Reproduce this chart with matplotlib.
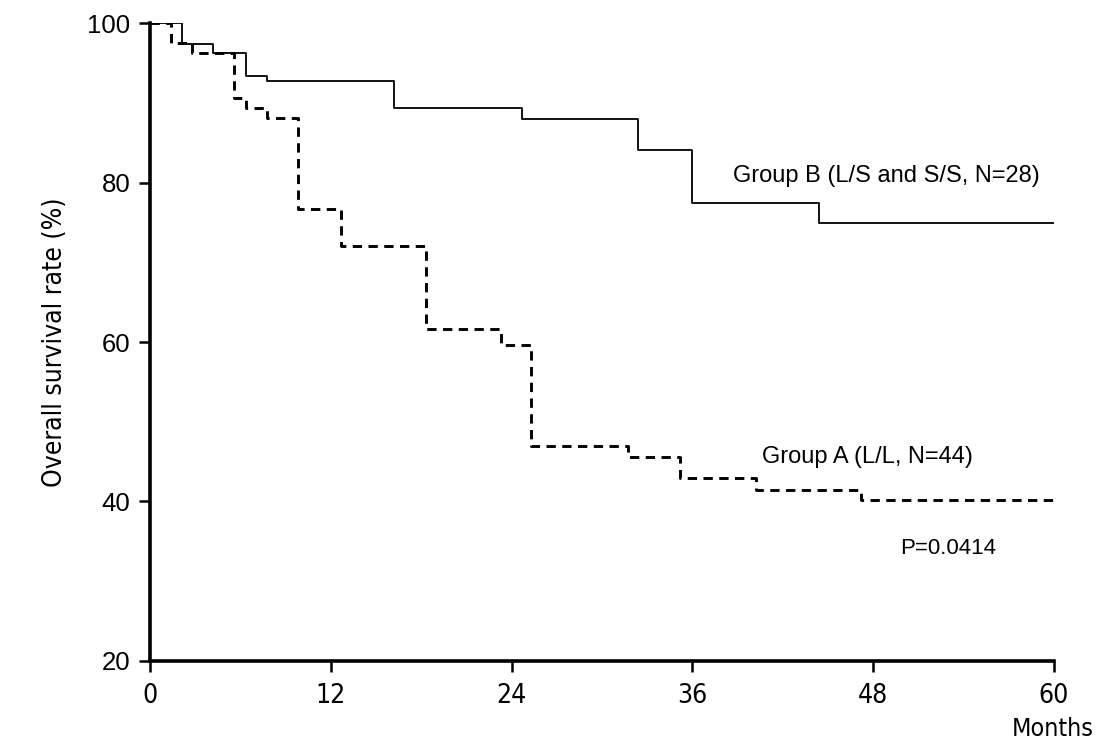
import matplotlib
matplotlib.use("Agg")
import matplotlib.pyplot as plt
from matplotlib import font_manager

# Kaplan-Meier step data (months, survival %)
group_b_months = [0, 2.1, 4.2, 6.4, 7.8, 16.2, 24.7, 32.4, 36.0, 44.4, 60]
group_b_surv = [100, 97.4, 96.2, 93.4, 92.7, 89.4, 88.0, 84.1, 77.4, 74.9, 74.9]

group_a_months = [0, 1.4, 2.8, 5.6, 6.4, 7.8, 9.8, 12.7, 18.3, 23.3, 25.3,
                  31.7, 35.2, 40.2, 47.2, 60]
group_a_surv = [100, 97.5, 96.2, 90.6, 89.3, 88.1, 76.7, 72.1, 61.6, 59.6,
                46.9, 45.6, 42.9, 41.5, 40.2, 40.2]

x_ticks = [0, 12, 24, 36, 48, 60]
y_ticks = [20, 40, 60, 80, 100]

label_b = "Group B (L/S and S/S, N=28)"
label_a = "Group A (L/L, N=44)"
p_text = "P=0.0414"

plt.rcParams['font.family'] = ['Liberation Sans', 'DejaVu Sans']

# Prefer a narrow face for axis numbers and titles when one is installed
installed = {f.name for f in font_manager.fontManager.ttflist}
if 'Liberation Sans Narrow' in installed:
    narrow = dict(family='Liberation Sans Narrow')
else:
    narrow = dict(family='DejaVu Sans', stretch='condensed')

fig = plt.figure(figsize=(10.97, 7.44), dpi=100)
ax = fig.add_axes([0.1367, 0.1116, 0.9608 - 0.1367, 0.969 - 0.1116])

ax.step(group_b_months, group_b_surv, where='post', color='black', lw=1.3)
ax.step(group_a_months, group_a_surv, where='post', color='black', lw=2.1,
        linestyle=(0, (3.2, 2.2)))

ax.set_xlim(0, 60)
ax.set_ylim(20, 100)
ax.set_xticks(x_ticks)
ax.set_yticks(y_ticks)
ax.set_xticklabels([str(v) for v in x_ticks], fontsize=19, **narrow)
ax.set_yticklabels([str(v) for v in y_ticks], fontsize=18.5)

for side in ('top', 'right'):
    ax.spines[side].set_visible(False)
for side in ('left', 'bottom'):
    ax.spines[side].set_linewidth(2.6)
ax.tick_params(axis='both', direction='out', width=1.8, length=8, pad=6)
ax.tick_params(axis='x', pad=8)

ax.set_ylabel("Overall survival rate (%)", fontsize=19, labelpad=14, **narrow)

fig.text(733 / 1097, 1 - 176 / 744, label_b, fontsize=17, va='center', ha='left')
fig.text(762 / 1097, 1 - 457 / 744, label_a, fontsize=17, va='center', ha='left')
fig.text(900 / 1097, 1 - 548 / 744, p_text, fontsize=16, va='center', ha='left')
fig.text(1094 / 1097, 1 - 741 / 744, "Months", fontsize=18,
         va='bottom', ha='right', **narrow)

fig.savefig("out.png", dpi=100, facecolor='white')
